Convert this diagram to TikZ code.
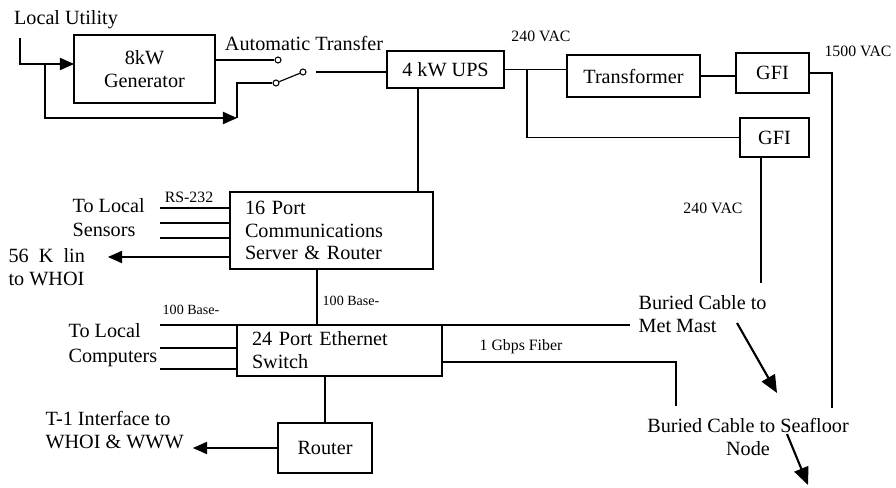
\documentclass[tikz,border=0pt]{standalone}
\usepackage{fontspec}
\setmainfont{Liberation Serif}
\usetikzlibrary{arrows.meta,calc}
\begin{document}
\begin{tikzpicture}[x=0.02cm,y=-0.02cm,
  line width=0.65pt,
  box/.style={draw,rectangle,inner sep=0pt,font=\fontsize{11.5}{13}\selectfont,align=center},
  lbl/.style={inner sep=0pt,font=\fontsize{11.5}{13}\selectfont},
  small/.style={inner sep=0pt,font=\fontsize{9}{10}\selectfont},
  tiny/.style={inner sep=0pt,font=\fontsize{8}{9}\selectfont},
  contact/.style={draw,circle,fill=white,inner sep=0pt,minimum size=6*0.02cm,line width=0.6pt},
  arr/.style={-{Triangle[length=8pt,width=7pt]}},
  bigarr/.style={line width=1.2pt,-{Triangle[length=10pt,width=8.5pt]}}
]
\useasboundingbox (0,0) rectangle (896,487);

% boxes
\node[box,minimum width=141*0.02cm,minimum height=68*0.02cm] (gen) at (144.5,69) {8kW\\Generator};
\node[box,minimum width=117*0.02cm,minimum height=37*0.02cm] (ups) at (445.5,69.5) {4 kW UPS};
\node[box,minimum width=133*0.02cm,minimum height=42*0.02cm] (trans) at (633.5,76) {Transformer};
\node[box,minimum width=73*0.02cm,minimum height=40*0.02cm] (gfiA) at (772.5,73) {GFI};
\node[box,minimum width=69*0.02cm,minimum height=39*0.02cm] (gfiB) at (774.5,137.5) {GFI};
\node[box,minimum width=203*0.02cm,minimum height=77*0.02cm,align=left,text width=173*0.02cm,inner xsep=15*0.02cm] (comm) at (331.5,230.5) {16 Port\\Communications\\Server \& Router};
\node[box,minimum width=205*0.02cm,minimum height=51*0.02cm,align=left,text width=175*0.02cm,inner xsep=15*0.02cm] (sw) at (339.5,350.5) {24 Port Ethernet\\Switch};
\node[box,minimum width=94*0.02cm,minimum height=50*0.02cm] (router) at (325,448) {Router};

% switch contacts
\node[contact] (cA) at (278,60) {};
\node[contact] (cB) at (276,83) {};
\node[contact] (cP) at (303,72) {};

% texts
\node[lbl] (lu) at (66,20) {Local Utility};
\node[lbl] (at) at (304,43) {Automatic Transfer};
\node[small] (vacA) at (541,36) {240 VAC};
\node[small] (vacB) at (858,51) {1500 VAC};
\node[small] (vacC) at (713,208) {240 VAC};
\node[small] (rs) at (189,197) {RS-232};
\node[lbl,anchor=west,align=left] (sens) at (72,217.5) {To Local\\[1pt]Sensors};
\node[lbl,anchor=west,align=left] (k56) at (8,267.5) {56\enspace K\enspace lin\\to WHOI};
\node[tiny] (bA) at (351,301) {100 Base-};
\node[tiny] (bB) at (191,310) {100 Base-};
\node[lbl,anchor=west,align=left] (comp) at (68,345) {To Local\\[1pt]Computers};
\node[lbl,anchor=west,align=left] (t1) at (45,430) {T-1 Interface to\\WHOI \& WWW};
\node[small] (fib) at (521,347) {1 Gbps Fiber};
\node[lbl,anchor=west,align=left] (met) at (638,314) {Buried Cable to\\Met Mast};
\node[lbl,align=center] (sea) at (748,437) {Buried Cable to Seafloor\\Node};

% coordinates
\coordinate (luS) at (20,38);
\coordinate (genIn) at (74,64);
\coordinate (j1) at (45,64);
\coordinate (byA) at (237,118);
\coordinate (cPo) at (316,72);
\coordinate (junc) at (527,69.5);
\coordinate (hvEnd) at (832,408);
\coordinate (lvTop) at (761,157);
\coordinate (lvEnd) at (761,283);
\coordinate (s1) at (160,208);
\coordinate (s2) at (160,223);
\coordinate (s3) at (160,238);
\coordinate (kTip) at (108,257);
\coordinate (p1) at (160,325);
\coordinate (p2) at (160,348);
\coordinate (p3) at (160,369);
\coordinate (tTip) at (193,448);
\coordinate (metEnd) at (630,325);
\coordinate (fibEnd) at (676,406);
\coordinate (aS) at (737,323);
\coordinate (aE) at (777,393);
\coordinate (bS) at (787,434);
\coordinate (bE) at (808,485);

% power path
\draw[arr] (luS) |- (genIn);
\draw[arr] (j1) |- (byA);
\draw (byA) |- (cB.west);
\draw (gen.east |- cA) -- (cA.west);
\draw (cB) -- (cP);
\draw (cPo) -- (cPo -| ups.west);
\draw (ups.east) -- (ups.east -| trans.west);
\draw (junc) |- (gfiB.west);
\draw (trans.east) -- (trans.east -| gfiA.west);
\draw (gfiA.east) -| (hvEnd);
\draw (lvTop) -- (lvEnd);
\draw (ups.south) ++(-27.5,0) coordinate (u1) -- (u1 |- comm.north);

% communications
\draw (s1) -- (s1 -| comm.west);
\draw (s2) -- (s2 -| comm.west);
\draw (s3) -- (s3 -| comm.west);
\draw[arr] (kTip -| comm.west) -- (kTip);
\draw (comm.south) ++(-14.5,0) coordinate (c1) -- (c1 |- sw.north);
\draw (p1) -- (p1 -| sw.west);
\draw (p2) -- (p2 -| sw.west);
\draw (p3) -- (p3 -| sw.west);
\draw (router.north |- sw.south) -- (router.north);
\draw[arr] (router.west) -- (tTip);
\draw (metEnd -| sw.east) -- (metEnd);
\draw (sw.east) ++(0,11.5) -| (fibEnd);

% buried cable arrows
\draw[bigarr] (aS) -- (aE);
\draw[bigarr] (bS) -- (bE);
\end{tikzpicture}
\end{document}
